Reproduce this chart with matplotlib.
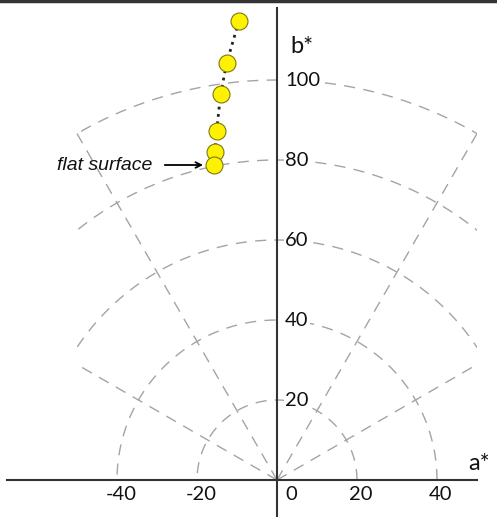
import numpy as np
import matplotlib
matplotlib.use('Agg')
import matplotlib.pyplot as plt
from matplotlib.patches import Rectangle
from matplotlib.lines import Line2D

# Данные: точки a*, b*
a_vals = [-9.5, -12.6, -14.1, -15.1, -15.5, -15.7]
b_vals = [114.8, 104.2, 96.4, 87.25, 82.1, 78.75]

# Сетка: радиусы дуг и углы лучей
radii = [20, 40, 60, 80, 100]
ray_angles = [30, 60, 120, 150]

# Подписи осей
x_ticks = [-40, -20, 0, 20, 40]
y_ticks = [20, 40, 60, 80, 100]

fig = plt.figure(figsize=(4.97, 5.17), dpi=100)
ax = fig.add_axes([0, 0, 1, 1])
ax.set_xlim(-69.25, 55)
ax.set_ylim(-9.25, 120)

# Область отсечения сетки
clip = Rectangle((-50.5, -1), 100.5, 130, transform=ax.transData)

grid_style = dict(color='#a4a4a4', linewidth=1, dashes=(8, 6), zorder=1)
theta = np.linspace(0, np.pi, 400)
for r in radii:
    line, = ax.plot(r * np.cos(theta), r * np.sin(theta), **grid_style)
    line.set_clip_path(clip)
for ang in ray_angles:
    t = np.deg2rad(ang)
    line, = ax.plot([0, 100 * np.cos(t)], [0, 100 * np.sin(t)], **grid_style)
    line.set_clip_path(clip)

# Оси через ноль
for name, spine in ax.spines.items():
    if name in ('left', 'bottom'):
        spine.set_position(('data', 0))
        spine.set_linewidth(1.5)
        spine.set_color('#333333')
    else:
        spine.set_visible(False)
ax.spines['bottom'].set_bounds(-67.5, 50)
ax.spines['left'].set_bounds(-9.25, 118)
ax.set_xticks([])
ax.set_yticks([])
ax.patch.set_visible(False)

# Подписи делений
for x in x_ticks:
    xp = x + 3.5 if x == 0 else x + 1
    ax.text(xp, -3.75, str(x), ha='center', va='center', fontsize=14.5, family='Lato', color='#111111')
for y in y_ticks:
    ax.text(2, y, str(y), ha='left', va='center', fontsize=14.5, family='Lato', color='#111111',
            bbox=dict(facecolor='white', edgecolor='none', pad=1), zorder=2)

ax.text(3.25, 106.75, 'b*', ha='left', va='baseline', fontsize=17, family='Lato', color='#111111')
ax.text(47.75, 2.5, 'a*', ha='left', va='baseline', fontsize=17, family='Lato', color='#111111')

# Точки
ax.plot(a_vals, b_vals, linestyle=':', color='#222222', linewidth=2, zorder=3)
ax.plot(a_vals, b_vals, linestyle='none', marker='o', markersize=12.2,
        markerfacecolor='#fff200', markeredgecolor='#7a7a10', markeredgewidth=0.8, zorder=4)

# Подпись и стрелка
ax.text(-31.25, 78.5, 'flat surface', ha='right', va='center', fontsize=14,
        family='Liberation Sans', style='italic', color='#111111')
ax.annotate('', xy=(a_vals[-1] - 2.1, b_vals[-1]), xytext=(-28.75, b_vals[-1]),
            arrowprops=dict(arrowstyle='->', color='black', linewidth=1.3))

# Рамка сверху
fig.add_artist(Line2D([0, 1], [0.998, 0.998], transform=fig.transFigure, color='#333333', linewidth=2.5))

fig.savefig('out.png', dpi=100)
